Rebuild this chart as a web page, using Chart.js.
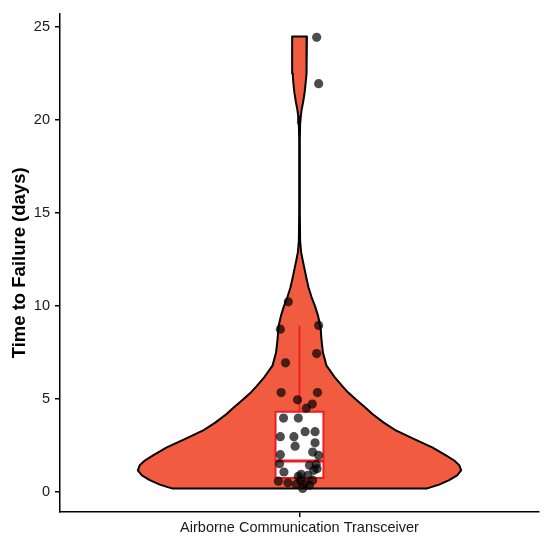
<!DOCTYPE html>
<html>
<head>
<meta charset="utf-8">
<script src="https://cdn.jsdelivr.net/npm/chart.js@4.4.1/dist/chart.umd.min.js"></script>
<style>
  html, body { margin: 0; padding: 0; background: #fff; }
  #wrap { width: 550px; height: 544px; }
</style>
</head>
<body>
<div id="wrap"><canvas id="violin"></canvas></div>
<script>
// category on the x axis
const category = 'Airborne Communication Transceiver';

// observed time-to-failure values (days) and their horizontal jitter
const failureDays = [24.45, 21.96, 10.23, 8.76, 8.96, 7.45, 6.95, 5.35, 5.35, 4.96,
    4.73, 4.51, 3.98, 3.98, 3.25, 3.25, 2.98, 2.98, 2.47, 2.65,
    2.01, 2.15, 1.97, 1.53, 1.44, 1.49, 1.08, 1.17, 0.96, 0.85,
    0.90, 0.64, 0.59, 0.50, 0.64, 0.46, 0.41, 0.20, 0.37, 1.26];
const jitter = [0.043, 0.048, -0.028, -0.048, 0.048, 0.043, -0.035, -0.046, 0.045, -0.005,
    0.032, 0.017, -0.040, -0.003, 0.014, 0.039, -0.048, -0.014, -0.011, 0.039,
    -0.048, 0.033, 0.048, -0.050, 0.025, 0.042, -0.039, 0.036, 0.004, -0.003,
    0.021, 0.033, -0.053, -0.029, 0.003, 0.013, -0.008, 0.008, 0.025, 0.044];

// violin outline: y values and relative density (max = 1)
const violinY = [0.2, 0.4, 0.64, 0.9, 1.17, 1.45, 1.7, 2.0, 2.4, 2.85,
    3.3, 3.75, 4.2, 4.5, 5.0, 5.4, 5.7, 6.2, 6.8, 7.5,
    8.2, 8.9, 9.5, 10.0, 10.5, 11.0, 11.5, 12.0, 12.5, 12.9,
    13.5, 15, 17, 19, 19.8, 20.2, 20.6, 21.0, 21.5, 22.0,
    22.5, 23.5, 24.5];
const violinDensity = [0.790, 0.864, 0.926, 0.975, 1.000, 0.988, 0.957, 0.901, 0.821, 0.710,
    0.599, 0.519, 0.451, 0.414, 0.346, 0.296, 0.265, 0.216, 0.167, 0.145,
    0.136, 0.130, 0.114, 0.096, 0.074, 0.056, 0.043, 0.031, 0.019, 0.010,
    0.004, 0.002, 0.002, 0.002, 0.004, 0.008, 0.014, 0.023, 0.032, 0.038,
    0.042, 0.045, 0.046];

// box plot summary: lower whisker, q1, median, q3, upper whisker
const boxStats = [0.2, 0.76, 1.67, 4.32, 8.94];

// y tick labels
const yTicks = [0, 5, 10, 15, 20, 25];

const FONT = 'Liberation Sans, Arial, Helvetica, sans-serif';
const CENTER = 1;
const VIOLIN_HALF = 0.405;
const BOX_HALF = 0.06;

// build the violin polygon: up the left side, down the right side
const violinPath = [];
violinY.forEach((y, i) => violinPath.push({ x: CENTER - violinDensity[i] * VIOLIN_HALF, y }));
for (let i = violinY.length - 1; i >= 0; i--) {
    violinPath.push({ x: CENTER + violinDensity[i] * VIOLIN_HALF, y: violinY[i] });
}
violinPath.push(violinPath[0]);

const [wLow, q1, med, q3, wHigh] = boxStats;
const boxPath = [
    { x: CENTER - BOX_HALF, y: q1 }, { x: CENTER + BOX_HALF, y: q1 },
    { x: CENTER + BOX_HALF, y: q3 }, { x: CENTER - BOX_HALF, y: q3 },
    { x: CENTER - BOX_HALF, y: q1 },
];

const pointData = failureDays.map((v, i) => ({ x: CENTER + jitter[i], y: v }));

const lineSet = (data, color, width, order, extra) => Object.assign({
    data, showLine: true, borderColor: color, borderWidth: width,
    pointRadius: 0, tension: 0, order, fill: false,
}, extra || {});

const config = {
    type: 'scatter',
    data: {
        datasets: [
            {
                data: pointData,
                backgroundColor: 'rgba(0,0,0,0.7)',
                borderWidth: 0,
                pointRadius: 4.6,
                order: 0,
            },
            lineSet([{ x: CENTER - BOX_HALF, y: med }, { x: CENTER + BOX_HALF, y: med }], '#ED1C24', 3, 1),
            lineSet(boxPath, '#ED1C24', 2, 2, { fill: 'shape', backgroundColor: '#ffffff' }),
            lineSet([{ x: CENTER, y: q3 }, { x: CENTER, y: wHigh }], '#ED1C24', 1.8, 3),
            lineSet([{ x: CENTER, y: wLow }, { x: CENTER, y: q1 }], '#ED1C24', 1.8, 3),
            lineSet(violinPath, '#000000', 2, 4, { fill: 'shape', backgroundColor: '#F15B40', borderJoinStyle: 'round' }),
        ],
    },
    options: {
        responsive: true,
        maintainAspectRatio: false,
        animation: false,
        events: [],
        layout: { padding: { top: 10, right: 11, left: 0, bottom: 0 } },
        plugins: { legend: { display: false }, tooltip: { enabled: false } },
        scales: {
            x: {
                type: 'linear',
                min: 0.4,
                max: 1.6,
                afterBuildTicks: (scale) => { scale.ticks = [{ value: CENTER }]; },
                afterFit: (scale) => { scale.height = 32; },
                ticks: {
                    callback: () => category,
                    color: '#1a1a1a',
                    font: { family: FONT, size: 14.5 },
                    padding: 2,
                    maxRotation: 0,
                },
                grid: { display: true, drawOnChartArea: false, drawTicks: true, tickLength: 5, color: '#000', lineWidth: 1.5 },
                border: { display: true, color: '#000', width: 1.5 },
            },
            y: {
                type: 'linear',
                min: -1.07,
                max: 25.72,
                afterBuildTicks: (scale) => { scale.ticks = yTicks.map(v => ({ value: v })); },
                afterFit: (scale) => { scale.width = 60; },
                ticks: {
                    color: '#1a1a1a',
                    font: { family: FONT, size: 14.5 },
                    padding: 5,
                },
                grid: { display: true, drawOnChartArea: false, drawTicks: true, tickLength: 5, color: '#000', lineWidth: 1.5 },
                border: { display: true, color: '#000', width: 1.5 },
                title: {
                    display: true,
                    text: 'Time to Failure (days)',
                    color: '#000',
                    font: { family: FONT, size: 18.5, weight: 'bold' },
                    padding: { top: 9, bottom: 0 },
                },
            },
        },
    },
};

new Chart(document.getElementById('violin'), config);
</script>
</body>
</html>
